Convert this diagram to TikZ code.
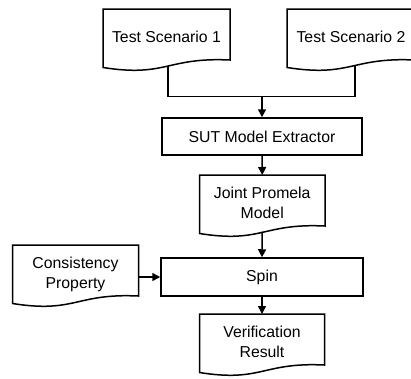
\documentclass[tikz,border=0pt]{standalone}
\usepackage{fontspec}
\setmainfont{Liberation Sans}
\usetikzlibrary{arrows.meta,calc}
\begin{document}
\begin{tikzpicture}[x=1pt,y=-1pt,
  line/.style={line width=1.5pt, draw=black},
  arr/.style={line, -{Triangle[width=8pt,length=8pt]}},
  doctext/.style={font=\fontsize{15.8}{20}\selectfont, align=center, inner sep=0pt, text depth=0pt, anchor=center, yshift=-28pt},
  docbox/.style={draw=none, inner sep=0pt, outer sep=0pt, minimum width=#1, minimum height=58.5pt, anchor=north west},
  procbox/.style={line, inner sep=0pt, font=\fontsize{15.8}{20}\selectfont},
]
\clip (0,0) rectangle (411,378);
\newcommand\docoutline[1]{\draw[line] (#1.north west) -- (#1.north east) -- ([yshift=7.5pt]#1.south east) .. controls ([yshift=10.5pt]#1.south) and ([yshift=-10pt]#1.south) .. (#1.south west) -- cycle;}

% document shapes
\node[docbox=127pt, label={[doctext]north:Test Scenario 1}] (ts1) at (103,9) {};
\node[docbox=128pt, label={[doctext]north:Test Scenario 2}] (ts2) at (287,9) {};
\node[docbox=125.5pt, label={[doctext]north:Joint Promela\\Model}] (joint) at (199.5,175) {};
\node[docbox=126pt, label={[doctext]north:Consistency\\Property}] (cons) at (12.5,245) {};
\node[docbox=125pt, label={[doctext]north:Verification\\Result}] (ver) at (199.5,314) {};
\docoutline{ts1}
\docoutline{ts2}
\docoutline{joint}
\docoutline{cons}
\docoutline{ver}

% process boxes
\node[procbox, minimum width=200pt, minimum height=37pt] (sut) at (262,136.5) {SUT Model Extractor};
\node[procbox, minimum width=202pt, minimum height=38pt] (spin) at (262,277) {Spin};

% connectors
\coordinate (join) at (262,96.5);
\draw[line] ([shift={(1.5pt,2pt)}]ts1.south) |- (join) -| ([shift={(4pt,2pt)}]ts2.south);
\draw[arr] (join) -- (sut.north);
\draw[arr] (sut.south) -- (joint.north);
\draw[arr] ([yshift=2pt]joint.south) -- (spin.north);
\draw[arr] (cons.east |- spin.west) -- (spin.west);
\draw[arr] (spin.south) -- (ver.north);
\end{tikzpicture}
\end{document}
